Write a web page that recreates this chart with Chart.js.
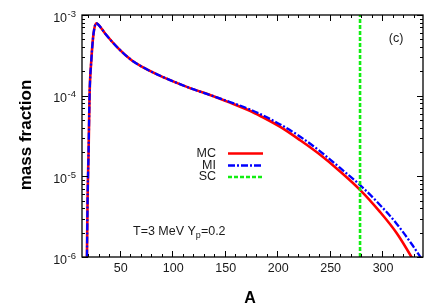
<!DOCTYPE html>
<html><head><meta charset="utf-8">
<script src="https://cdn.jsdelivr.net/npm/chart.js@4.4.0/dist/chart.umd.min.js"></script>
<style>html,body{margin:0;padding:0;background:#fff}#wrap{width:442px;height:308px;position:relative}</style>
</head><body><div id="wrap"><canvas id="c"></canvas></div>
<script>
// ---- data ----
const massA    = [18.6, 19.3, 20.3, 21.2, 22.9, 25, 27.6, 30, 36, 48.6, 61, 74, 87, 98, 117, 136, 155, 174, 184, 203, 222, 241, 260, 279, 298, 314, 328, 339];
const mcValues = [7e-7, 5e-6, 2.1e-5, 1e-4, 2.77e-4, 5.9e-4, 7.9e-4, 7.5e-4, 5.9e-4, 3.86e-4, 2.77e-4, 2.18e-4, 1.8e-4, 1.56e-4, 1.24e-4, 1.02e-4, 8.2e-5, 6.5e-5, 5.6e-5, 4.1e-5, 2.8e-5, 1.85e-5, 1.15e-5, 6.8e-6, 3.62e-6, 1.97e-6, 1.0e-6, 5.5e-7];
const miValues = [7e-7, 5e-6, 2.1e-5, 1e-4, 2.77e-4, 5.9e-4, 7.9e-4, 7.5e-4, 5.9e-4, 3.86e-4, 2.77e-4, 2.18e-4, 1.8e-4, 1.56e-4, 1.24e-4, 1.02e-4, 8.35e-5, 6.75e-5, 5.9e-5, 4.4e-5, 3.1e-5, 2.04e-5, 1.27e-5, 7.8e-6, 4.42e-6, 2.57e-6, 1.46e-6, 8.9e-7];
const scA = 279;
const seriesLabels = ['MC', 'MI', 'SC'];
const xMin = 14, xMax = 339;
const yMin = 1e-6, yMax = 1e-3;
const xMajorTicks = [50, 100, 150, 200, 250, 300];
const xMinorTicks = [20, 30, 40, 60, 70, 80, 90, 110, 120, 130, 140, 160, 170, 180, 190, 210, 220, 230, 240, 260, 270, 280, 290, 310, 320, 330];
const yMajorExps = [-6, -5, -4, -3];
const yMinorMantissas = [2, 3, 4, 5, 6, 7, 8, 9];
const xTitle = 'A';
const yTitle = 'mass fraction';
const panelLabel = '(c)';

const FONT = '"Liberation Sans", Arial, Helvetica, sans-serif';
const toPts = (xs, ys) => xs.map((x, i) => ({x: x, y: ys[i]}));

const colors = {MC: '#ff0000', MI: '#0000ff', SC: '#11ee11'};
const dashes = {MC: [], MI: [7, 2, 2, 2], SC: [4, 2]};
const widths = {MC: 2.6, MI: 2.3, SC: 2.6};

const frame = {
  id: 'frame',
  afterDatasetsDraw(chart) {
    const ctx = chart.ctx, a = chart.chartArea;
    const xs = chart.scales.x, ys = chart.scales.y;
    ctx.save();
    ctx.strokeStyle = '#000';
    ctx.lineWidth = 1.3;
    ctx.strokeRect(a.left, a.top, a.right - a.left, a.bottom - a.top);
    ctx.lineWidth = 1;
    const tick = (x1, y1, x2, y2) => { ctx.beginPath(); ctx.moveTo(x1, y1); ctx.lineTo(x2, y2); ctx.stroke(); };
    xMajorTicks.forEach(v => { const p = Math.round(xs.getPixelForValue(v)) + 0.5; tick(p, a.bottom, p, a.bottom - 6); tick(p, a.top, p, a.top + 6); });
    xMinorTicks.forEach(v => { const p = Math.round(xs.getPixelForValue(v)) + 0.5; tick(p, a.bottom, p, a.bottom - 3); tick(p, a.top, p, a.top + 3); });
    yMajorExps.forEach(e => { const p = Math.round(ys.getPixelForValue(Math.pow(10, e))) + 0.5; tick(a.left, p, a.left + 6, p); tick(a.right, p, a.right - 6, p); });
    yMajorExps.slice(0, -1).forEach(e => yMinorMantissas.forEach(m => {
      const p = Math.round(ys.getPixelForValue(m * Math.pow(10, e))) + 0.5; tick(a.left, p, a.left + 3, p); tick(a.right, p, a.right - 3, p);
    }));
    ctx.fillStyle = '#1a1a1a';
    // x tick labels
    ctx.font = '12.5px ' + FONT; ctx.textAlign = 'center'; ctx.textBaseline = 'middle';
    xMajorTicks.forEach(v => ctx.fillText(String(v), xs.getPixelForValue(v) + 1, a.bottom + 12));
    // y tick labels 10^e
    yMajorExps.forEach(e => {
      const p = ys.getPixelForValue(Math.pow(10, e));
      const sup = '-' + Math.abs(e);
      ctx.font = '9.5px ' + FONT;
      const sw = ctx.measureText(sup).width;
      const right = 76;
      ctx.textAlign = 'left'; ctx.textBaseline = 'alphabetic';
      ctx.fillText(sup, right - sw, p + 1.5);
      ctx.font = '12.5px ' + FONT;
      ctx.textAlign = 'right';
      ctx.fillText('10', right - sw - 0.5, p + 6.5);
    });
    // panel label
    ctx.font = '12.5px ' + FONT; ctx.textAlign = 'center'; ctx.textBaseline = 'middle';
    ctx.fillText(panelLabel, 396, 39);
    // T=3 MeV Yp=0.2
    ctx.textAlign = 'left'; ctx.textBaseline = 'alphabetic';
    let tx = 133; const ty = 234.5;
    const s1 = 'T=3 MeV Y'; ctx.fillText(s1, tx, ty); tx += ctx.measureText(s1).width;
    ctx.font = '9px ' + FONT; ctx.fillText('p', tx, ty + 3); tx += ctx.measureText('p').width;
    ctx.font = '12.5px ' + FONT; ctx.fillText('=0.2', tx, ty);
    // legend
    const ly = [153.5, 165.5, 177];
    seriesLabels.forEach((lab, i) => {
      ctx.font = '12.5px ' + FONT; ctx.textAlign = 'right'; ctx.textBaseline = 'middle';
      ctx.fillStyle = '#1a1a1a';
      ctx.fillText(lab, 216, ly[i]);
      ctx.beginPath(); ctx.strokeStyle = colors[lab]; ctx.lineWidth = widths[lab]; ctx.setLineDash(dashes[lab]);
      ctx.moveTo(228, ly[i]); ctx.lineTo(263, ly[i]); ctx.stroke(); ctx.setLineDash([]);
    });
    // axis titles
    ctx.fillStyle = '#000';
    ctx.font = 'bold 16px ' + FONT; ctx.textAlign = 'center'; ctx.textBaseline = 'middle';
    ctx.fillText(xTitle, 250, 299);
    ctx.save(); ctx.translate(26, 135); ctx.rotate(-Math.PI / 2);
    ctx.font = 'bold 17px ' + FONT; ctx.fillText(yTitle, 0, 0); ctx.restore();
    ctx.restore();
  }
};

new Chart(document.getElementById('c'), {
  type: 'line',
  data: {
    datasets: [
      {label: seriesLabels[0], data: toPts(massA, mcValues), borderColor: colors.MC, borderWidth: widths.MC, borderDash: dashes.MC, order: 3, cubicInterpolationMode: 'monotone'},
      {label: seriesLabels[1], data: toPts(massA, miValues), borderColor: colors.MI, borderWidth: widths.MI, borderDash: dashes.MI, order: 2, cubicInterpolationMode: 'monotone'},
      {label: seriesLabels[2], data: [{x: scA, y: yMin}, {x: scA, y: yMax}], borderColor: colors.SC, borderWidth: widths.SC, borderDash: dashes.SC, order: 1}
    ]
  },
  options: {
    responsive: true, maintainAspectRatio: false, animation: false,
    layout: {padding: {left: 82, right: 19, top: 15, bottom: 51}},
    elements: {point: {radius: 0}, line: {fill: false}},
    scales: {
      x: {type: 'linear', min: xMin, max: xMax, display: false},
      y: {type: 'logarithmic', min: yMin, max: yMax, display: false}
    },
    plugins: {legend: {display: false}, tooltip: {enabled: false}}
  },
  plugins: [frame]
});
</script>
</body></html>
